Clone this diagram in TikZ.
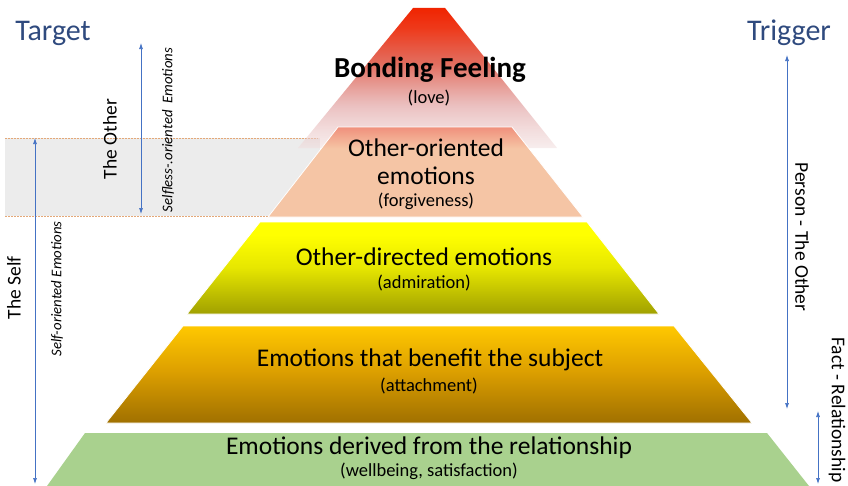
\documentclass[tikz,border=0pt]{standalone}
\usepackage{fontspec}
\setmainfont{Carlito}
\usetikzlibrary{arrows.meta,fadings}
\definecolor{tblue}{HTML}{2F4A7E}
\definecolor{ablue}{HTML}{4472C4}
\definecolor{dotor}{HTML}{E4A878}
\definecolor{greyband}{HTML}{ECECEC}
\definecolor{greenL}{HTML}{A9D18E}
\definecolor{salmon}{HTML}{F5C5A5}
\definecolor{redTop}{HTML}{F02400}
\definecolor{redMid}{HTML}{DB4A38}
\definecolor{redLow}{HTML}{E0A0A0}
\definecolor{redBot}{HTML}{F0DCDC}
\definecolor{salTop}{HTML}{F0907C}
\definecolor{yelTop}{HTML}{FFFF00}
\definecolor{yelMid}{HTML}{E6E600}
\definecolor{yelBot}{HTML}{A0A000}
\definecolor{orTop}{HTML}{FFC800}
\definecolor{orMid}{HTML}{DDA000}
\definecolor{orBot}{HTML}{A07000}
\pgfdeclareverticalshading{redsh}{100bp}{color(0bp)=(redBot); color(25bp)=(redBot); color(40bp)=(redLow); color(55bp)=(redMid); color(68bp)=(redTop!85!redMid); color(75bp)=(redTop); color(100bp)=(redTop)}
\pgfdeclareverticalshading{salsh}{100bp}{color(0bp)=(salmon); color(25bp)=(salmon); color(63bp)=(salmon); color(75bp)=(salTop); color(100bp)=(salTop)}
\pgfdeclareverticalshading{yelsh}{100bp}{color(0bp)=(yelBot); color(25bp)=(yelBot); color(50bp)=(yelMid); color(68bp)=(yelTop); color(100bp)=(yelTop)}
\pgfdeclareverticalshading{orsh}{100bp}{color(0bp)=(orBot); color(25bp)=(orBot); color(52bp)=(orMid); color(75bp)=(orTop); color(100bp)=(orTop)}
\tikzfading[name=redfade, top color=transparent!0, bottom color=transparent!50]
\tikzset{
  layer/.style={draw=white, line width=0.8pt},
  maintext/.style={font=\fontsize{25.5}{28}\selectfont, align=center, text=black},
  subtext/.style={font=\fontsize{18.5}{20}\selectfont, text=black},
  headtext/.style={font=\fontsize{30}{32}\selectfont, text=tblue},
  sidetext/.style={font=\fontsize{19.5}{21}\selectfont, text=black},
  smallit/.style={font=\itshape\fontsize{14.8}{16}\selectfont, text=black},
  darrow/.style={ablue, line width=0.7pt, {Latex[length=6pt,width=4pt]}-{Latex[length=6pt,width=4pt]}},
  dotline/.style={dotor, dash pattern=on 1.5pt off 1.5pt, line width=0.6pt}
}
\begin{document}
\begin{tikzpicture}[x=1pt,y=-1pt]
\useasboundingbox (0,0) rectangle (848,485);
% grey band
\fill[greyband] (5,138) rectangle (320,216);
\coordinate (d1a) at (5,138); \coordinate (d1b) at (318,138);
\coordinate (d2a) at (5,216); \coordinate (d2b) at (310,216);
\draw[dotline] (d1a) -- (d1b);
\draw[dotline] (d2a) -- (d2b);
% red top
\shade[shading=redsh, path fading=redfade] (413,8) -- (445,8) -- (557,148) -- (298,148) -- cycle;
% salmon
\shade[layer, shading=salsh] (338,127) -- (512,127) -- (583,217) -- (268,217) -- cycle;
% yellow
\shade[layer, shading=yelsh] (260,222) -- (587,222) -- (659,314) -- (187,314) -- cycle;
% orange
\shade[layer, shading=orsh] (183,326) -- (674,326) -- (752,423) -- (106,423) -- cycle;
% green
\fill[greenL] (85,433) -- (767,433) -- (809,486) -- (47,486) -- cycle;
% texts
\node[font=\bfseries\fontsize{29}{32}\selectfont] (bond) at (430,70) {Bonding Feeling};
\node[subtext] (love) at (429,98) {(love)};
\node[maintext] (oo1) at (426,148) {Other-oriented};
\node[maintext] (oo2) at (426,176) {emotions};
\node[subtext] (forg) at (426,201) {(forgiveness)};
\node[maintext] (od) at (424,257) {Other-directed emotions};
\node[subtext] (adm) at (424,283) {(admiration)};
\node[maintext] (eb) at (430,360) {Emotions that benefit the subject};
\node[subtext] (att) at (429,386) {(attachment)};
\node[maintext] (ed) at (429,448) {Emotions derived from the relationship};
\node[subtext] (wb) at (429,471) {(wellbeing, satisfaction)};
% headers
\node[headtext] (target) at (53,33) {Target};
\node[headtext] (trigger) at (789,33) {Trigger};
% side labels
\node[sidetext, rotate=90] (other) at (110,139) {The Other};
\node[smallit, rotate=90] (selfless) at (168,130) {Selfless-.oriented\ \ Emotions};
\node[sidetext, rotate=90] (self) at (14,288) {The Self};
\node[smallit, rotate=90] (selfor) at (57,289) {Self-oriented Emotions};
\node[sidetext, rotate=-90] (person) at (802,237) {Person - The Other};
\node[sidetext, rotate=-90] (fact) at (837,410) {Fact - Relationship};
% arrows
\coordinate (a1t) at (35,138); \coordinate (a1b) at (35,484);
\coordinate (a2t) at (141,43); \coordinate (a2b) at (141,214);
\coordinate (a3t) at (787,55); \coordinate (a3b) at (787,409);
\coordinate (a4t) at (818,411); \coordinate (a4b) at (818,484);
\draw[darrow] (a1t) -- (a1b);
\draw[darrow] (a2t) -- (a2b);
\draw[darrow] (a3t) -- (a3b);
\draw[darrow] (a4t) -- (a4b);
\end{tikzpicture}
\end{document}
